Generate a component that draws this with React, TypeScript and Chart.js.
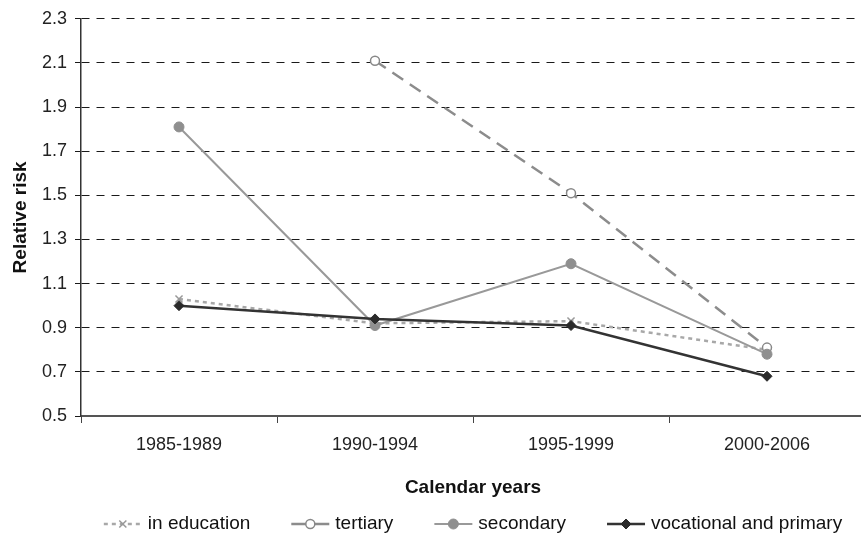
import React, { useEffect, useRef } from 'react';
import { Chart, registerables } from 'chart.js';

Chart.register(...registerables);

const CATEGORIES = ['1985-1989', '1990-1994', '1995-1999', '2000-2006'];
const SERIES_LABELS = ['in education', 'tertiary', 'secondary', 'vocational and primary'];
const IN_EDUCATION = [1.03, 0.92, 0.93, 0.8];
const TERTIARY = [null, 2.11, 1.51, 0.81];
const SECONDARY = [1.81, 0.91, 1.19, 0.78];
const VOCATIONAL = [1.0, 0.94, 0.91, 0.68];
const Y_TICKS = [0.5, 0.7, 0.9, 1.1, 1.3, 1.5, 1.7, 1.9, 2.1, 2.3];

const FONT = '"Liberation Sans", Arial, Helvetica, sans-serif';

function drawMarker(ctx: CanvasRenderingContext2D, style: string, x: number, y: number, r: number) {
  ctx.beginPath();
  if (style === 'circle') {
    ctx.arc(x, y, r, 0, Math.PI * 2);
  } else if (style === 'rectRot') {
    ctx.moveTo(x, y - r);
    ctx.lineTo(x + r, y);
    ctx.lineTo(x, y + r);
    ctx.lineTo(x - r, y);
    ctx.closePath();
  } else if (style === 'crossRot') {
    const d = r * Math.SQRT1_2;
    ctx.moveTo(x - d, y - d);
    ctx.lineTo(x + d, y + d);
    ctx.moveTo(x + d, y - d);
    ctx.lineTo(x - d, y + d);
  }
}

const legendPlugin = {
  id: 'customLegend',
  afterDraw(chart: any) {
    const ctx: CanvasRenderingContext2D = chart.ctx;
    const area = chart.chartArea;
    const ds = chart.data.datasets;
    const sampleW = 38;
    const textGap = 6;
    const itemGap = 41;
    const y = 524;
    ctx.save();
    ctx.font = `19px ${FONT}`;
    const widths = ds.map((d: any) => ctx.measureText(d.label).width);
    const total = widths.reduce((a: number, w: number) => a + sampleW + textGap + w, 0) + itemGap * (ds.length - 1);
    let x = (area.left + area.right) / 2 - total / 2;
    ds.forEach((d: any, i: number) => {
      ctx.save();
      ctx.strokeStyle = d.borderColor;
      ctx.lineWidth = d.borderWidth;
      ctx.setLineDash(d.legendDash || []);
      ctx.beginPath();
      ctx.moveTo(x, y);
      ctx.lineTo(x + sampleW, y);
      ctx.stroke();
      ctx.setLineDash([]);
      drawMarker(ctx, d.pointStyle, x + sampleW / 2, y, d.pointRadius);
      ctx.lineWidth = d.pointBorderWidth;
      ctx.strokeStyle = d.pointBorderColor;
      ctx.fillStyle = d.pointBackgroundColor;
      if (d.pointStyle !== 'crossRot') ctx.fill();
      ctx.stroke();
      ctx.restore();
      ctx.fillStyle = '#111';
      ctx.textBaseline = 'middle';
      ctx.textAlign = 'left';
      ctx.fillText(d.label, x + sampleW + textGap, y);
      x += sampleW + textGap + widths[i] + itemGap;
    });
    ctx.restore();
  },
};

export default function App() {
  const canvasRef = useRef<HTMLCanvasElement | null>(null);

  useEffect(() => {
    const canvas = canvasRef.current;
    if (!canvas) return;
    const chart = new Chart(canvas, {
      type: 'line',
      data: {
        labels: CATEGORIES,
        datasets: [
          {
            label: SERIES_LABELS[0],
            data: IN_EDUCATION,
            borderColor: '#a8a8a8',
            borderWidth: 2.5,
            borderDash: [4, 4],
            legendDash: [4, 4],
            pointStyle: 'crossRot',
            pointRadius: 5,
            pointBorderColor: '#999999',
            pointBackgroundColor: '#999999',
            pointBorderWidth: 1.5,
            order: 4,
          },
          {
            label: SERIES_LABELS[1],
            data: TERTIARY,
            borderColor: '#8c8c8c',
            borderWidth: 2.5,
            borderDash: [13, 8],
            legendDash: [],
            pointStyle: 'circle',
            pointRadius: 4.5,
            pointBorderColor: '#888888',
            pointBackgroundColor: '#ffffff',
            pointBorderWidth: 1.5,
            order: 3,
          },
          {
            label: SERIES_LABELS[2],
            data: SECONDARY,
            borderColor: '#999999',
            borderWidth: 2,
            borderDash: [],
            legendDash: [],
            pointStyle: 'circle',
            pointRadius: 5,
            pointBorderColor: '#8f8f8f',
            pointBackgroundColor: '#8f8f8f',
            pointBorderWidth: 1,
            order: 2,
          },
          {
            label: SERIES_LABELS[3],
            data: VOCATIONAL,
            borderColor: '#333333',
            borderWidth: 2.5,
            borderDash: [],
            legendDash: [],
            pointStyle: 'rectRot',
            pointRadius: 5,
            pointBorderColor: '#2a2a2a',
            pointBackgroundColor: '#2a2a2a',
            pointBorderWidth: 1,
            order: 1,
          },
        ] as any,
      },
      options: {
        responsive: false,
        animation: false,
        layout: { padding: { left: 0, right: 15, top: 14, bottom: 39 } },
        plugins: {
          legend: { display: false },
          tooltip: { enabled: false },
        },
        elements: { line: { tension: 0 } },
        scales: {
          x: {
            type: 'category',
            offset: true,
            grid: {
              display: true,
              drawOnChartArea: false,
              drawTicks: true,
              tickLength: 7,
              color: '#444444',
              lineWidth: 1,
              offset: true,
            },
            border: { display: true, color: '#555555', width: 2 },
            ticks: {
              font: { family: FONT, size: 18 },
              color: '#222222',
              padding: 11,
              maxRotation: 0,
              autoSkip: false,
            },
            title: {
              display: true,
              text: 'Calendar years',
              font: { family: FONT, size: 19, weight: 'bold' },
              color: '#111111',
              padding: { top: 0, bottom: 1 },
            },
            afterFit: (s: any) => {
              s.height = 84;
            },
          },
          y: {
            min: 0.5,
            max: 2.3,
            afterBuildTicks: (s: any) => {
              s.ticks = Y_TICKS.map((v) => ({ value: v }));
            },
            grid: { color: '#1a1a1a', lineWidth: 1, tickLength: 6, drawTicks: true },
            border: { display: true, color: '#333333', width: 1.5, dash: [8, 7] },
            ticks: {
              font: { family: FONT, size: 18 },
              color: '#222222',
              padding: 8,
              callback: (v: any) => Number(v).toFixed(1),
            },
            title: {
              display: true,
              text: 'Relative risk',
              font: { family: FONT, size: 19, weight: 'bold' },
              color: '#111111',
              padding: { top: 9, bottom: 0 },
            },
            afterFit: (s: any) => {
              s.width = 81;
            },
          },
        },
      } as any,
      plugins: [legendPlugin],
    });
    return () => chart.destroy();
  }, []);

  return (
    <div style={{ position: 'absolute', left: 0, top: 0, width: 861, height: 539, overflow: 'hidden', background: '#fff' }}>
      <canvas ref={canvasRef} width={880} height={539} style={{ display: 'block' }} />
    </div>
  );
}
